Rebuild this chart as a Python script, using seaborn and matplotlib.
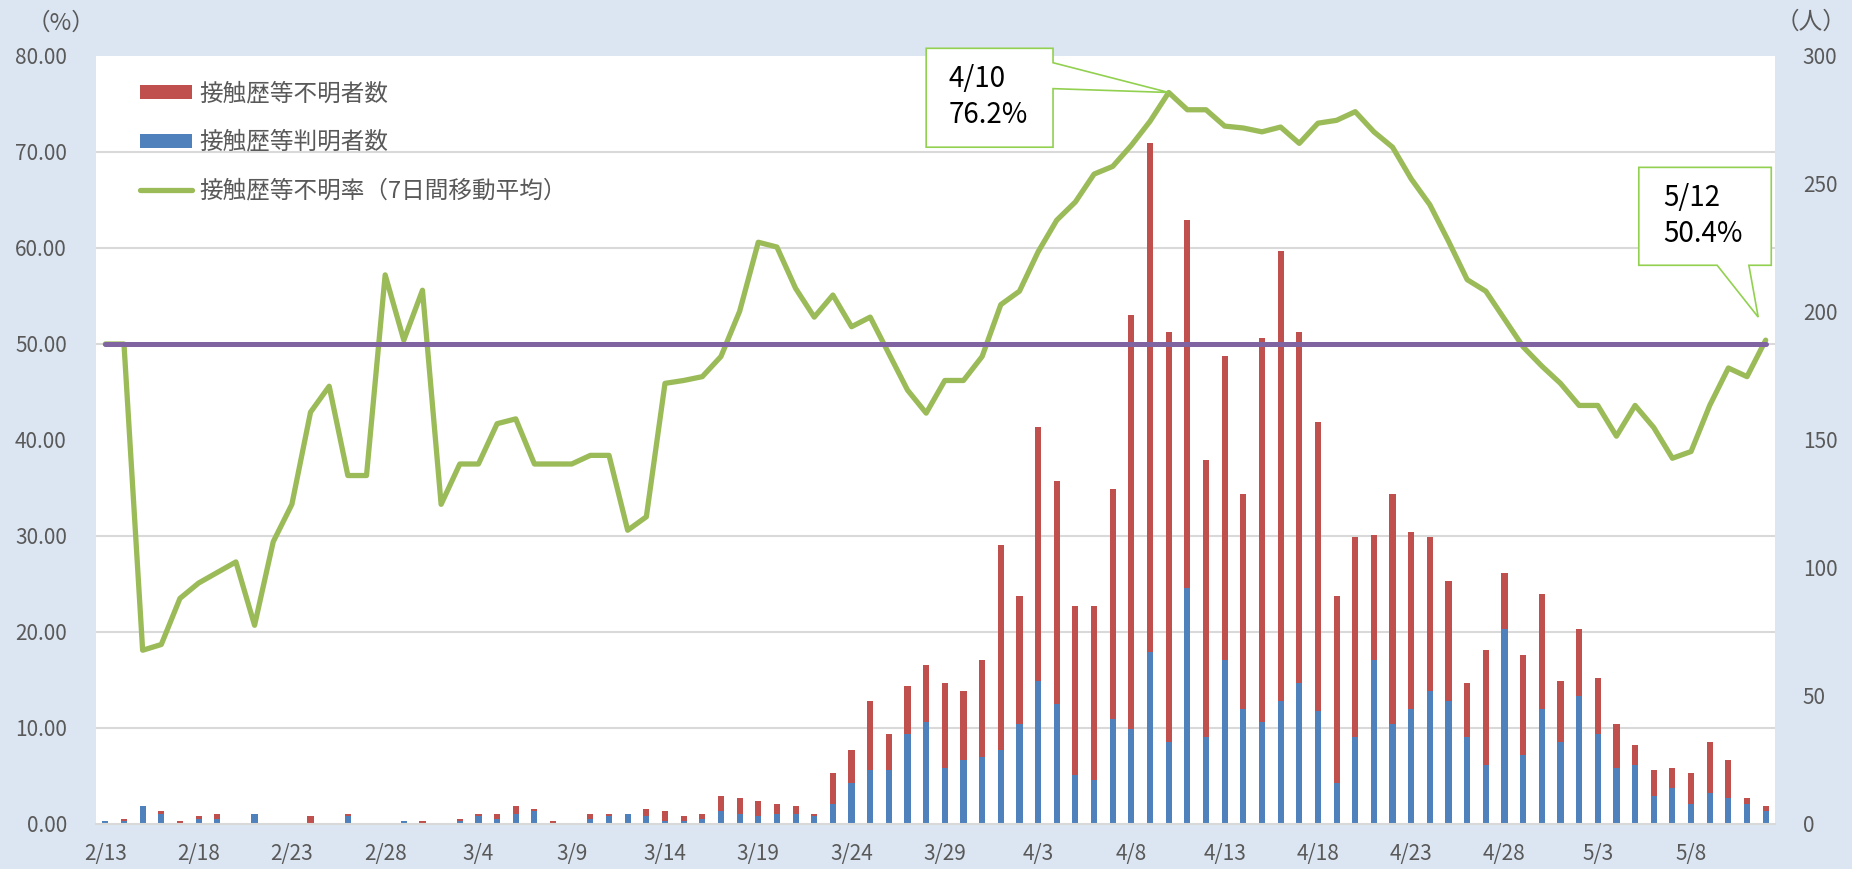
import numpy as np
import pandas as pd
import seaborn as sns
import matplotlib.pyplot as plt
from matplotlib.patches import Patch, Polygon
from matplotlib.lines import Line2D

# 2020/2/13 - 5/12
dates = [f"{d.month}/{d.day}" for d in pd.date_range("2020-02-13", "2020-05-12")]

# 接触歴等判明者数 (blue)
known = [1, 1, 7, 4, 0, 2, 2, 0, 4, 0, 0, 0, 0, 3, 0, 0, 1, 0, 0, 1,
         3, 2, 4, 5, 0, 0, 2, 3, 4, 3, 1, 1, 2, 5, 4, 3, 4, 4, 3, 8,
         16, 21, 21, 35, 40, 22, 25, 26, 29, 39, 56, 47, 19, 17, 41, 37, 67, 32, 92, 34,
         64, 45, 40, 48, 55, 44, 16, 34, 64, 39, 45, 52, 48, 34, 23, 76, 27, 45, 32, 50,
         35, 22, 23, 11, 14, 8, 12, 10, 8, 5]
# 接触歴等不明者数 (red)
unknown = [0, 1, 0, 1, 1, 1, 2, 0, 0, 0, 0, 3, 0, 1, 0, 0, 0, 1, 0, 1,
           1, 2, 3, 1, 1, 0, 2, 1, 0, 3, 4, 2, 2, 6, 6, 6, 4, 3, 1, 12,
           13, 27, 14, 19, 22, 33, 27, 38, 80, 50, 99, 87, 66, 68, 90, 162, 199, 160, 144, 108,
           119, 84, 150, 176, 137, 113, 73, 78, 49, 90, 69, 60, 47, 21, 45, 22, 39, 45, 24, 26,
           22, 17, 8, 10, 8, 12, 20, 15, 2, 2]
# 接触歴等不明率（7日間移動平均） %
rate = [50.0, 50.0, 18.1, 18.7, 23.5, 25.1, 26.2, 27.3, 20.7, 29.4,
        33.3, 42.9, 45.6, 36.3, 36.3, 57.2, 50.4, 55.6, 33.3, 37.5,
        37.5, 41.7, 42.2, 37.5, 37.5, 37.5, 38.4, 38.4, 30.6, 32.0,
        45.9, 46.2, 46.6, 48.7, 53.4, 60.6, 60.1, 55.8, 52.8, 55.1,
        51.8, 52.8, 49.0, 45.2, 42.8, 46.2, 46.2, 48.7, 54.1, 55.5,
        59.6, 62.9, 64.8, 67.7, 68.5, 70.7, 73.2, 76.2, 74.4, 74.4,
        72.7, 72.5, 72.1, 72.6, 70.9, 73.0, 73.3, 74.2, 72.1, 70.5,
        67.2, 64.5, 60.7, 56.7, 55.5, 52.6, 49.7, 47.7, 45.9, 43.6,
        43.6, 40.4, 43.6, 41.3, 38.1, 38.8, 43.6, 47.5, 46.6, 50.4]
threshold = 50

RED = "#C0504D"
BLUE = "#4F81BD"
GREEN = "#9BBB59"
PURPLE = "#8064A2"
BG = "#DCE6F2"
GRID = "#D9D9D9"
TXT = "#595959"
CALLOUT = "#92D050"

df = pd.DataFrame({"date": dates, "known": known, "unknown": unknown, "rate": rate})
df["total"] = df["known"] + df["unknown"]
df["pos"] = np.arange(len(df))
df["threshold"] = threshold
n = len(df)

sns.set_style("white")
plt.rcParams["font.family"] = ["Noto Sans CJK JP", "DejaVu Sans"]

W, H = 1852, 869
fig = plt.figure(figsize=(W / 100, H / 100), dpi=100, facecolor=BG)
ax = fig.add_axes([96 / W, 45 / H, 1679 / W, 768 / H])
ax.set_facecolor("white")

# stacked bars: total in red, known in blue on top
sns.barplot(data=df, x="date", y="total", color=RED, width=0.33, saturation=1,
            linewidth=0, ax=ax)
sns.barplot(data=df, x="date", y="known", color=BLUE, width=0.33, saturation=1,
            linewidth=0, ax=ax)

ax2 = ax.twinx()
ax.yaxis.tick_right()
ax2.yaxis.tick_left()

sns.lineplot(data=df, x="pos", y="rate", color=GREEN, lw=3.8, ax=ax2,
             solid_capstyle="round", solid_joinstyle="round", zorder=3)
sns.lineplot(data=df, x="pos", y="threshold", color=PURPLE, lw=3.6, ax=ax2,
             solid_capstyle="round", zorder=4)

ax.set_xlim(-0.5, n - 0.5)
ax.set_ylim(0, 300)
ax2.set_ylim(0, 80)

# right axis (people)
ax.set_yticks(range(0, 301, 50))
ax.set_yticklabels([str(v) for v in range(0, 301, 50)])
ax.tick_params(axis="y", which="major", length=0, pad=20, labelsize=15, labelcolor=TXT)
# gridlines at every 10 % (drawn on the bar axes so they sit behind the bars)
pct_ticks = np.arange(0, 81, 10)
ax.set_yticks(pct_ticks * 300 / 80, minor=True)
ax.tick_params(axis="y", which="minor", length=0)
ax.grid(which="minor", axis="y", color=GRID, lw=1.5)
ax.grid(which="major", axis="y", visible=False)
ax.set_axisbelow(True)

# left axis (%)
ax2.set_yticks(pct_ticks)
ax2.set_yticklabels([f"{v:.2f}" for v in pct_ticks])
ax2.tick_params(axis="y", length=0, pad=21, labelsize=15, labelcolor=TXT)

# x axis
ax.set_xticks(range(0, n, 5))
ax.set_xticklabels(dates[::5])
ax.set_xticks(np.arange(-0.5, n, 1), minor=True)
ax.tick_params(axis="x", which="major", length=0, pad=14, labelsize=15, labelcolor=TXT)
ax.tick_params(axis="x", which="minor", direction="in", length=5, width=1.2, color=GRID)
ax.set_xlabel("")
ax.set_ylabel("")
ax2.set_xlabel("")
ax2.set_ylabel("")

for a in (ax, ax2):
    for s in a.spines.values():
        s.set_visible(False)
ax.spines["bottom"].set_visible(True)
ax.spines["bottom"].set_color(GRID)
ax.spines["bottom"].set_linewidth(1.5)

# legend
handles = [Patch(facecolor=RED, edgecolor="none"),
           Patch(facecolor=BLUE, edgecolor="none"),
           Line2D([], [], color=GREEN, lw=3.8, solid_capstyle="round")]
labels = ["接触歴等不明者数", "接触歴等判明者数", "接触歴等不明率（7日間移動平均）"]
leg = ax2.legend(handles, labels, loc="upper left", bbox_to_anchor=(140 / W, 1 - 82 / H),
                 bbox_transform=fig.transFigure, frameon=False, fontsize=17,
                 borderpad=0, borderaxespad=0, handlelength=2.2, handleheight=0.55,
                 handletextpad=0.3, labelspacing=1.1)
for t in leg.get_texts():
    t.set_color(TXT)


def callout(verts, text, text_xy):
    ax2.add_patch(Polygon(verts, closed=True, facecolor="white", edgecolor=CALLOUT,
                          lw=1.2, zorder=10, clip_on=False))
    ax2.text(text_xy[0], text_xy[1], text, ha="left", va="center", fontsize=20,
             color="black", linespacing=1.25, zorder=11)


# peak callout
pk = int(np.argmax(rate))
tx, ty = pk, rate[pk]
callout([(tx - 13.0, 80.8), (tx - 6.2, 80.8), (tx - 6.2, 79.3), (tx, ty),
         (tx - 6.2, 76.6), (tx - 6.2, 70.5), (tx - 13.0, 70.5)],
        f"{dates[pk]}\n{rate[pk]:.1f}%", (tx - 11.8, 75.7))

# last day callout
lx, ly = n - 1 - 0.4, rate[-1] + 2.4
callout([(lx - 6.4, 68.4), (lx + 0.7, 68.4), (lx + 0.7, 58.2), (lx - 0.5, 58.2),
         (lx, ly), (lx - 2.2, 58.2), (lx - 6.4, 58.2)],
        f"{dates[-1]}\n{rate[-1]:.1f}%", (lx - 5.1, 63.3))

fig.text(61 / W, 1 - 23 / H, "（%）", ha="center", va="center", fontsize=17, color=TXT)
fig.text(1811 / W, 1 - 22 / H, "（人）", ha="center", va="center", fontsize=17, color=TXT)

fig.savefig("out.png", dpi=100, facecolor=BG)
